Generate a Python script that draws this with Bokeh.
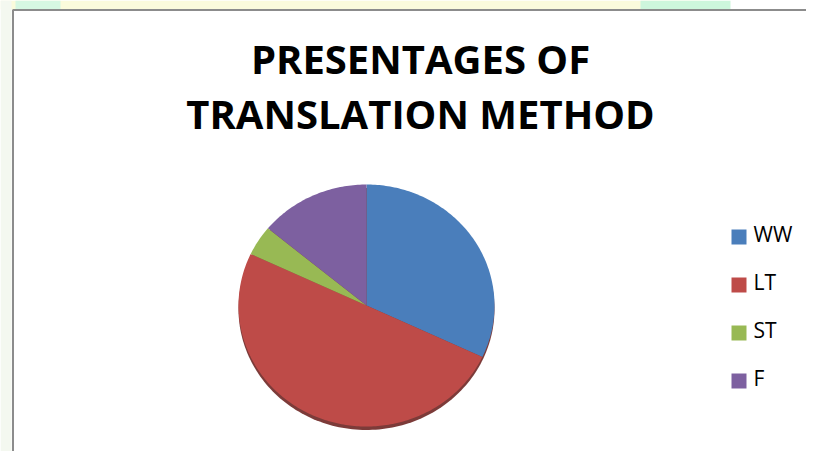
import numpy as np
from bokeh.plotting import figure
from bokeh.models import Range1d
from bokeh.core.properties import value
from bokeh.embed import file_html
from bokeh.resources import INLINE

# ---- data ----
categories = ["WW", "LT", "ST", "F"]
shares = [32, 50, 4, 14]
colors = ["#4a7ebb", "#be4b48", "#98b954", "#7d60a0"]
title_lines = ["PRESENTAGES OF", "TRANSLATION METHOD"]

W, H = 806, 451
p = figure(width=W, height=H, x_range=Range1d(0, W), y_range=Range1d(H, 0),
           output_backend="svg", toolbar_location=None, min_border=0)
p.axis.visible = False
p.grid.visible = False
p.outline_line_color = None
p.background_fill_color = "white"
p.border_fill_color = "white"

# slide background strip above the chart frame
p.quad(left=0, right=700, top=0, bottom=9, fill_color="#fbfbdc", line_color=None)
p.quad(left=640, right=730, top=0, bottom=9, fill_color="#cdf6dc", line_color=None)
p.quad(left=15, right=60, top=0, bottom=9, fill_color="#d6f7e2", line_color=None)
p.quad(left=0, right=11, top=0, bottom=H, fill_color="#f4f8f0", line_color=None)

# chart frame
p.quad(left=12.5, right=W + 10, top=9.5, bottom=H + 10, fill_color="white",
       line_color="#8c8c8c", line_width=2)

# pie geometry (y grows downward)
cx, cy, rx, ry = 366, 305, 128, 121

# shadow
t = np.linspace(0, 2 * np.pi, 240)
p.patch(cx + rx * np.cos(t), cy + 3.5 + ry * np.sin(t), fill_color="#6e2624",
        line_color=None, fill_alpha=0.9)

total = float(sum(shares))
start = np.pi / 2
xs, ys = [], []
for s in shares:
    span = 2 * np.pi * s / total
    th = np.linspace(start, start - span, max(int(span * 60), 4))
    xs.append([cx] + list(cx + rx * np.cos(th)) + [cx])
    ys.append([cy] + list(cy - ry * np.sin(th)) + [cy])
    start -= span
p.patches(xs=xs, ys=ys, fill_color=colors, line_color=None)

# title
p.text(x=[420, 420], y=[58, 113], text=title_lines, text_align="center",
       text_baseline="alphabetic", text_font=value("Open Sans"),
       text_font_style="bold", text_font_size="40px", text_color="#000000")

# legend
ly = [236.5 + 48 * i for i in range(len(categories))]
p.rect(x=[738.5] * len(categories), y=ly, width=15, height=15,
       fill_color=colors, line_color=None)
p.text(x=[753] * len(categories), y=[v - 3.5 for v in ly], text=categories,
       text_align="left", text_baseline="alphabetic",
       text_font=value("Open Sans"), text_font_size="21px", text_color="#000000")

open("out.html", "w").write(file_html(p, INLINE))
